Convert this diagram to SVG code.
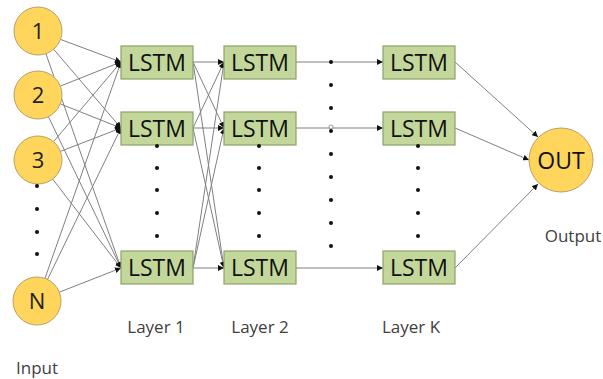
<svg xmlns="http://www.w3.org/2000/svg" width="603" height="379" viewBox="0 0 603 379">
  <style>
    .in { fill: #FFD55C; stroke: #B9A06A; stroke-width: 1; }
    .box { fill: #C4D79B; stroke: #8CA268; stroke-width: 1.2; }
    .lt { font-family: "Open Sans", "Liberation Sans", sans-serif; font-size: 23px; fill: #111; text-anchor: middle; }
    .num { font-family: "Open Sans", "Liberation Sans", sans-serif; font-size: 22px; fill: #222; text-anchor: middle; }
    .lbl { font-family: "Open Sans", "Liberation Sans", sans-serif; font-size: 17px; fill: #404040; text-anchor: middle; }
    .edge { stroke: #808080; stroke-width: 1; fill: none; marker-end: url(#arr); }
    .dot { fill: #111; }
  </style>
  <defs>
    <marker id="arr" markerUnits="userSpaceOnUse" markerWidth="7" markerHeight="6" refX="6" refY="3" orient="auto">
      <path d="M0,0 L6,3 L0,6 Z" fill="#111"/>
    </marker>
  </defs>

  <rect width="603" height="379" fill="#fff"/>

  <!-- connectors -->
  <g id="connectors">
    <!-- inputs to layer 1 -->
    <line class="edge" x1="60.5" y1="39.4" x2="121" y2="62"/>
    <line class="edge" x1="53.6" y1="49.2" x2="121" y2="128"/>
    <line class="edge" x1="45.9" y1="53.7" x2="121" y2="268"/>
    <line class="edge" x1="60.3" y1="86.1" x2="121" y2="62"/>
    <line class="edge" x1="60.3" y1="103.9" x2="121" y2="128"/>
    <line class="edge" x1="48.4" y1="116.6" x2="121" y2="268"/>
    <line class="edge" x1="53.5" y1="141.7" x2="121" y2="62"/>
    <line class="edge" x1="60.4" y1="151.4" x2="121" y2="128"/>
    <line class="edge" x1="52.6" y1="179" x2="121" y2="268"/>
    <line class="edge" x1="45" y1="278.3" x2="121" y2="62"/>
    <line class="edge" x1="47.5" y1="279.4" x2="121" y2="128"/>
    <line class="edge" x1="59.3" y1="292.2" x2="121" y2="268"/>
    <!-- layer 1 to layer 2 -->
    <line class="edge" x1="193" y1="62" x2="224" y2="62"/>
    <line class="edge" x1="193" y1="62" x2="224" y2="128"/>
    <line class="edge" x1="193" y1="62" x2="224" y2="268"/>
    <line class="edge" x1="193" y1="128" x2="224" y2="62"/>
    <line class="edge" x1="193" y1="128" x2="224" y2="128"/>
    <line class="edge" x1="193" y1="128" x2="224" y2="268"/>
    <line class="edge" x1="193" y1="268" x2="224" y2="62"/>
    <line class="edge" x1="193" y1="268" x2="224" y2="128"/>
    <line class="edge" x1="193" y1="268" x2="224" y2="268"/>
    <!-- layer 2 to layer K -->
    <line class="edge" x1="296" y1="62" x2="383" y2="62"/>
    <line class="edge" x1="296" y1="128" x2="383" y2="128"/>
    <line class="edge" x1="296" y1="268" x2="383" y2="268"/>
    <!-- layer K to output -->
    <line class="edge" x1="455" y1="62" x2="538" y2="137"/>
    <line class="edge" x1="455" y1="128" x2="529" y2="160"/>
    <line class="edge" x1="455" y1="268" x2="538" y2="184"/>
  </g>

  <!-- input nodes -->
  <g id="in-1"><circle class="in" cx="38" cy="31" r="24"/><text class="num" x="38" y="39">1</text></g>
  <g id="in-2"><circle class="in" cx="38" cy="95" r="24"/><text class="num" x="38" y="103">2</text></g>
  <g id="in-3"><circle class="in" cx="38" cy="160" r="24"/><text class="num" x="38" y="168">3</text></g>
  <g id="in-n"><circle class="in" cx="37" cy="301" r="24"/><text class="num" x="37" y="309">N</text></g>

  <!-- layer 1 -->
  <g id="l1-1"><rect class="box" x="121" y="46" width="72" height="33"/><text class="lt" x="157" y="70.5">LSTM</text></g>
  <g id="l1-2"><rect class="box" x="121" y="112" width="72" height="33"/><text class="lt" x="157" y="136.5">LSTM</text></g>
  <g id="l1-3"><rect class="box" x="121" y="251" width="72" height="33"/><text class="lt" x="157" y="275.5">LSTM</text></g>

  <!-- layer 2 -->
  <g id="l2-1"><rect class="box" x="224" y="46" width="72" height="33"/><text class="lt" x="260" y="70.5">LSTM</text></g>
  <g id="l2-2"><rect class="box" x="224" y="112" width="72" height="33"/><text class="lt" x="260" y="136.5">LSTM</text></g>
  <g id="l2-3"><rect class="box" x="224" y="251" width="72" height="33"/><text class="lt" x="260" y="275.5">LSTM</text></g>

  <!-- layer K -->
  <g id="lk-1"><rect class="box" x="383" y="46" width="72" height="33"/><text class="lt" x="419" y="70.5">LSTM</text></g>
  <g id="lk-2"><rect class="box" x="383" y="112" width="72" height="33"/><text class="lt" x="419" y="136.5">LSTM</text></g>
  <g id="lk-3"><rect class="box" x="383" y="251" width="72" height="33"/><text class="lt" x="419" y="275.5">LSTM</text></g>

  <!-- output node -->
  <g id="out"><circle class="in" cx="561" cy="160" r="32"/><text class="lt" x="561" y="168.5">OUT</text></g>

  <!-- ellipsis dots -->
  <g id="dots">
    <circle class="dot" cx="37" cy="186" r="2"/>
    <circle class="dot" cx="37" cy="209" r="2"/>
    <circle class="dot" cx="37" cy="232" r="2"/>
    <circle class="dot" cx="37" cy="254" r="2"/>

    <circle class="dot" cx="157" cy="146" r="2"/>
    <circle class="dot" cx="157" cy="168" r="2"/>
    <circle class="dot" cx="157" cy="190" r="2"/>
    <circle class="dot" cx="157" cy="213" r="2"/>
    <circle class="dot" cx="157" cy="236" r="2"/>

    <circle class="dot" cx="259" cy="146" r="2"/>
    <circle class="dot" cx="259" cy="168" r="2"/>
    <circle class="dot" cx="259" cy="190" r="2"/>
    <circle class="dot" cx="259" cy="213" r="2"/>
    <circle class="dot" cx="259" cy="236" r="2"/>

    <circle class="dot" cx="418" cy="146" r="2"/>
    <circle class="dot" cx="418" cy="168" r="2"/>
    <circle class="dot" cx="418" cy="190" r="2"/>
    <circle class="dot" cx="418" cy="213" r="2"/>
    <circle class="dot" cx="418" cy="236" r="2"/>

    <circle class="dot" cx="331" cy="62" r="2"/>
    <circle class="dot" cx="331" cy="85" r="2"/>
    <circle class="dot" cx="331" cy="108" r="2"/>
    <circle cx="331" cy="127" r="2" fill="#fff" stroke="#808080" stroke-width="0.8"/>
    <circle class="dot" cx="331" cy="131" r="2"/>
    <circle class="dot" cx="331" cy="154" r="2"/>
    <circle class="dot" cx="331" cy="177" r="2"/>
    <circle class="dot" cx="331" cy="200" r="2"/>
    <circle class="dot" cx="331" cy="223" r="2"/>
    <circle class="dot" cx="331" cy="246" r="2"/>
  </g>

  <!-- captions -->
  <g id="labels">
    <text class="lbl" x="156" y="333">Layer 1</text>
    <text class="lbl" x="260" y="333">Layer 2</text>
    <text class="lbl" x="411" y="333">Layer K</text>
    <text class="lbl" x="37" y="374">Input</text>
    <text class="lbl" x="573" y="242">Output</text>
  </g>
</svg>
